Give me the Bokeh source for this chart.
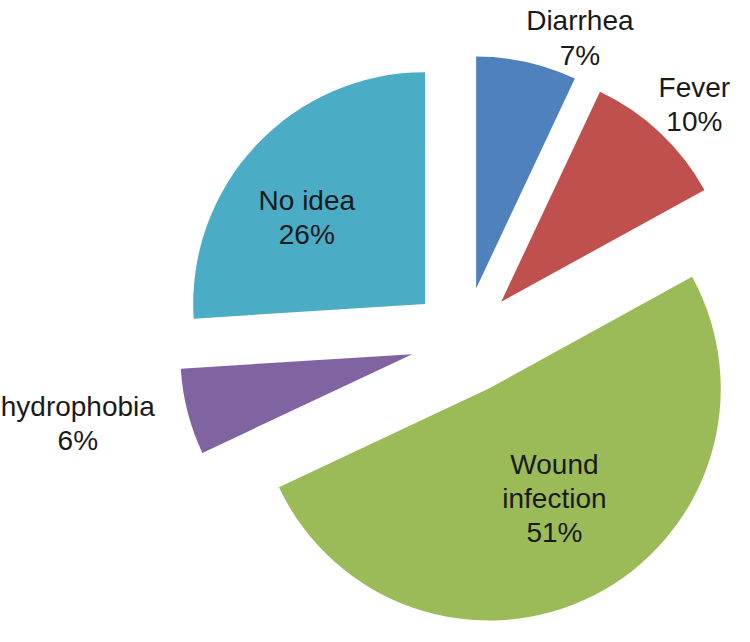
import numpy as np
from bokeh.plotting import figure
from bokeh.models import Range1d, ColumnDataSource
from bokeh.core.properties import value
from bokeh.embed import file_html
from bokeh.resources import INLINE

# ---- data ----
categories = ["Diarrhea", "Fever", "Wound infection", "hydrophobia", "No idea"]
percent = [7, 10, 51, 6, 26]
colors = ["#4F81BD", "#C0504D", "#9BBB59", "#8064A2", "#4BACC6"]

# label text lines for each category (as drawn in the chart)
label_lines = [["Diarrhea"], ["Fever"], ["Wound", "infection"], ["hydrophobia"], ["No idea"]]

# ---- layout (reference pixel space, y measured from top) ----
W_REF, H_REF = 750, 642
CX, CY = 474, 349        # pie centre
RADIUS = 237
EXPLODE = 55
# anchor (centre x, first baseline y) for each label block and line spacing
label_anchor = [(592, 21), (709, 89), (566, 476), (79, 416), (313, 205)]
LINE_STEP = 35

vals = np.array(percent, dtype=float)
frac = vals / vals.sum()
cum = np.concatenate([[0], np.cumsum(frac)])
theta1 = cum[:-1] * 2 * np.pi          # clockwise from 12 o'clock
theta2 = cum[1:] * 2 * np.pi
mid = (theta1 + theta2) / 2

cx = CX + EXPLODE * np.sin(mid)
cy = (H_REF - CY) + EXPLODE * np.cos(mid)

src = ColumnDataSource(dict(
    x=cx, y=cy,
    start=np.pi / 2 - theta2,
    end=np.pi / 2 - theta1,
    color=colors,
))

p = figure(width=734, height=626,
           x_range=Range1d(0, W_REF), y_range=Range1d(0, H_REF),
           x_axis_type=None, y_axis_type=None,
           output_backend="svg", toolbar_location=None, min_border=0)
p.grid.visible = False
p.outline_line_color = None
p.background_fill_color = "white"
p.border_fill_color = "white"

p.wedge(x="x", y="y", radius=RADIUS, start_angle="start", end_angle="end",
        direction="anticlock", fill_color="color", line_color=None, source=src)

tx, ty, tt = [], [], []
for lines, pct, (ax, ay) in zip(label_lines, percent, label_anchor):
    all_lines = lines + [f"{pct}%"]
    for i, ln in enumerate(all_lines):
        tx.append(ax)
        ty.append(H_REF - (ay + i * LINE_STEP))
        tt.append(ln)

p.text(x=tx, y=ty, text=tt, text_align="center", text_baseline="alphabetic",
       text_font=value("Liberation Sans"), text_font_size=value("28px"),
       text_color="#1a1a1a")

open("out.html", "w").write(file_html(p, INLINE))
